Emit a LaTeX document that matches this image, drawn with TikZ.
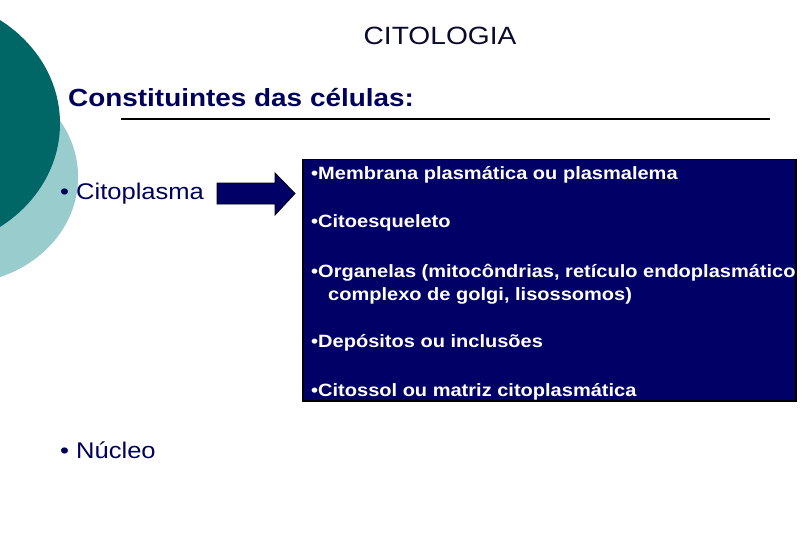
\documentclass[tikz,border=0pt]{standalone}
\usepackage{fontspec}
\setmainfont{Liberation Sans}[FakeStretch=1.125]
\usepackage{tikz}
\usetikzlibrary{positioning}

\definecolor{tealdark}{RGB}{0,102,102}
\definecolor{teallight}{RGB}{153,204,204}
\definecolor{navyfill}{RGB}{0,0,102}
\definecolor{navytext}{RGB}{0,0,90}
\definecolor{titletext}{RGB}{10,10,45}

\tikzset{
  boxitem/.style={anchor=base west,inner sep=0pt,text=white,font=\fontsize{17.8}{20}\selectfont\bfseries},
  sideitem/.style={anchor=base west,inner sep=0pt,text=navytext,font=\fontsize{22.7}{26}\selectfont}
}

\begin{document}
\begin{tikzpicture}[x=1pt,y=-1pt]

  % --- Page frame (pixel coordinates, y downwards) ---
  \useasboundingbox (0,0) rectangle (810,540);
  \clip (0,0) rectangle (810,540);

  % --- Decorative discs on the left edge ---
  \fill[teallight] (-42,177) ellipse [x radius=120.1, y radius=106.8];
  \fill[tealdark] (-82.9,123.5) ellipse [x radius=142.9, y radius=127];

  % --- Titles ---
  \node (title) [anchor=base,inner sep=0pt,text=titletext,font=\fontsize{25}{28}\selectfont] at (440,44.5) {CITOLOGIA};
  \node (head) [anchor=base west,inner sep=0pt,text=navytext,font=\fontsize{24.8}{28}\selectfont\bfseries] at (68,107) {Constituintes das células:};
  \draw[line width=2pt] (121,119.5) -- (770,119.5);

  % --- Left column ---
  \node (cito) [sideitem] at (60,199) {• Citoplasma};
  \node (nucl) [sideitem] at (60,458) {• Núcleo};

  % --- Block arrow ---
  \draw[fill=navyfill,line width=0.8pt] (217,183) -- (275,183) -- (275,173) -- (295,193.5)
    -- (275,215) -- (275,204) -- (217,204) -- cycle;

  % --- Dark box with the list ---
  \node (box) [draw=black,line width=1.5pt,fill=navyfill,anchor=north west,minimum width=493,minimum height=241,inner sep=0pt] at (302,159) {};
  \begin{scope}
    \clip (302,159) rectangle (795,400);
    \node (memb) [boxitem] at (311,179) {•Membrana plasmática ou plasmalema};
    \node (cyto) [boxitem] at (311,227) {•Citoesqueleto};
    \node (orga) [boxitem] at (311,277) {•Organelas (mitocôndrias, retículo endoplasmático,};
    \node (orgb) [boxitem] at (328,300) {complexo de golgi, lisossomos)};
    \node (depo) [boxitem] at (311,347) {•Depósitos ou inclusões};
    \node (ctsl) [boxitem] at (311,396) {•Citossol ou matriz citoplasmática};
  \end{scope}

\end{tikzpicture}
\end{document}
